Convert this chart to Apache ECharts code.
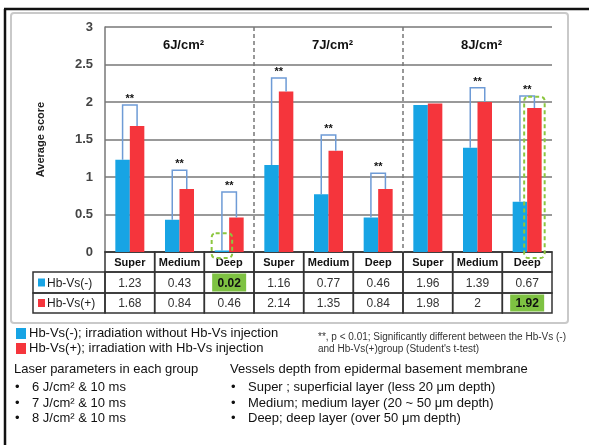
<!DOCTYPE html>
<html>
<head>
<meta charset="utf-8">
<script src="https://cdn.jsdelivr.net/npm/echarts@6/dist/echarts.min.js"></script>
<style>
html,body{margin:0;padding:0;background:#fff;}
#c{width:589px;height:445px;}
</style>
</head>
<body>
<div id="c"></div>
<script>
const categories = ['Super','Medium','Deep','Super','Medium','Deep','Super','Medium','Deep'];
const hbvsMinus = [1.23,0.43,0.02,1.16,0.77,0.46,1.96,1.39,0.67];
const hbvsPlus = [1.68,0.84,0.46,2.14,1.35,0.84,1.98,2,1.92];
const bracketTops = [1.96,1.09,0.8,2.32,1.56,1.05,null,2.19,2.08];
const groupTitles = ['6J/cm²','7J/cm²','8J/cm²'];
const groupCenters = [1,4,7];
const groupDividers = [3,6];
const highlightCells = [[2,0],[8,1]];           // [category index, row]
const greenBoxes = [[2,0,-0.08,0.25],[8,1,-0.08,2.07]]; // [category, 0=blue 1=red, low, high]
const seriesNames = ['Hb-Vs(-)','Hb-Vs(+)'];
const legendTexts = ['Hb-Vs(-); irradiation without Hb-Vs injection','Hb-Vs(+); irradiation with Hb-Vs injection'];
const BLUE = '#17a4e4', RED = '#f5353c', FONT = 'Liberation Sans, Arial, sans-serif';
const BARW = 14.5;

const chart = echarts.init(document.getElementById('c'), null, {renderer:'canvas'});

function bandW(api){ return api.size([1,0])[0]; }

const option = {
  animation:false,
  backgroundColor:'#fff',
  textStyle:{fontFamily:FONT},
  grid:{left:105,right:37,top:27,bottom:193,containLabel:false},
  xAxis:{type:'category',data:categories,
    axisLine:{show:true,lineStyle:{color:'#555',width:1.5}},
    axisTick:{show:false},
    axisLabel:{interval:0,margin:5,fontSize:11,fontWeight:'bold',color:'#111',fontFamily:FONT}},
  yAxis:{type:'value',min:0,max:3,interval:0.5,
    name:'Average score',nameLocation:'middle',nameGap:59,
    nameTextStyle:{fontSize:11,fontWeight:'bold',color:'#222',fontFamily:FONT},
    axisLine:{show:true,lineStyle:{color:'#777',width:1.5}},
    axisTick:{show:false},
    axisLabel:{margin:12,fontSize:13,fontWeight:'bold',color:'#444',fontFamily:FONT},
    splitLine:{lineStyle:{color:'#777',width:1.5}}},
  legend:{orient:'vertical',left:11,top:325,itemWidth:10,itemHeight:11,itemGap:2,icon:'rect',
    padding:[2,5,2,5],
    data:seriesNames,
    formatter:function(n){return legendTexts[seriesNames.indexOf(n)];},
    textStyle:{fontSize:13,color:'#111',fontFamily:FONT,padding:[0,0,0,-2]}},
  series:[
    {name:seriesNames[0],type:'bar',data:hbvsMinus,barWidth:BARW,barGap:'0%',itemStyle:{color:BLUE}},
    {name:seriesNames[1],type:'bar',data:hbvsPlus,barWidth:BARW,barGap:'0%',itemStyle:{color:RED}},
    // significance brackets
    {type:'custom',clip:false,z:5,
      data:bracketTops.map((t,i)=>[i,t,hbvsMinus[i],hbvsPlus[i]]).filter(d=>d[1]!==null),
      encode:{x:0,y:1},
      renderItem:function(params,api){
        const i=api.value(0), c=api.coord([i,api.value(1)]);
        const bx=c[0]-BARW/2, rx=c[0]+BARW/2;
        const yb=api.coord([i,api.value(2)])[1], yr=api.coord([i,api.value(3)])[1];
        return {type:'group',children:[
          {type:'polyline',shape:{points:[[bx,yb],[bx,c[1]],[rx,c[1]],[rx,yr]]},
            style:{stroke:'#6e9bd6',lineWidth:1.5,fill:null}},
          {type:'text',style:{x:c[0],y:c[1]-6,text:'**',textAlign:'center',textVerticalAlign:'middle',
            font:'bold 11px '+FONT,fill:'#111'}}
        ]};
      }},
    // group titles
    {type:'custom',clip:false,
      data:groupCenters.map((g,k)=>[g,2.75,k]),encode:{x:0,y:1},
      renderItem:function(params,api){
        const c=api.coord([api.value(0),api.value(1)]);
        return {type:'text',style:{x:c[0]+4,y:c[1],text:groupTitles[api.value(2)],textAlign:'center',
          textVerticalAlign:'middle',font:'bold 13px '+FONT,fill:'#111'}};
      }},
    // group dividers
    {type:'custom',clip:false,
      data:groupDividers.map(d=>[d,3]),encode:{x:0,y:1},
      renderItem:function(params,api){
        const w=bandW(api), t=api.coord([api.value(0),3]), b=api.coord([api.value(0),0]);
        const x=t[0]-w/2;
        return {type:'line',shape:{x1:x,y1:t[1],x2:x,y2:b[1]},
          style:{stroke:'#777',lineWidth:1.5,lineDash:[4,3]}};
      }},
    // green dashed boxes
    {type:'custom',clip:false,z:6,
      data:greenBoxes,encode:{x:0,y:2},
      renderItem:function(params,api){
        const i=api.value(0), side=api.value(1);
        const top=api.coord([i,api.value(3)]), bot=api.coord([i,api.value(2)]);
        const cx=top[0]+(side? BARW/2 : -BARW/2);
        const bw=BARW+6;
        return {type:'rect',shape:{x:cx-bw/2,y:top[1],width:bw,height:bot[1]-top[1],r:4},
          style:{fill:null,stroke:'#8cc63f',lineWidth:2,lineDash:[4,3]}};
      }},
    // data table below the axis
    {type:'custom',clip:false,z:1,
      data:categories.map((c,i)=>[i,0]),encode:{x:0,y:1},
      renderItem:function(params,api){
        const i=api.value(0), p=api.coord([i,0]), w=bandW(api);
        const x0=p[0]-w/2, y0=p[1];
        const rows=[[y0,20],[y0+20,21],[y0+41,20]];
        const ch=[];
        const lineStyle={fill:null,stroke:'#333',lineWidth:1.5};
        rows.forEach(r=>ch.push({type:'rect',shape:{x:x0,y:r[0],width:w,height:r[1]},style:lineStyle}));
        [hbvsMinus[i],hbvsPlus[i]].forEach((v,k)=>{
          const r=rows[k+1];
          const hl=highlightCells.some(h=>h[0]===i&&h[1]===k);
          if(hl){
            ch.push({type:'rect',shape:{x:x0+w/2-17,y:r[0]+1.5,width:34,height:r[1]-3},style:{fill:'#7ec242'}});
          }
          ch.push({type:'text',style:{x:x0+w/2,y:r[0]+r[1]/2+1,text:String(v),textAlign:'center',textVerticalAlign:'middle',
            font:(hl?'bold ':'')+'12px '+FONT,fill:hl?'#111':'#333'}});
        });
        if(i===0){
          const lx=x0-72;
          [0,1].forEach(k=>{
            const r=rows[k+1];
            ch.push({type:'rect',shape:{x:lx,y:r[0],width:72,height:r[1]},style:lineStyle});
            ch.push({type:'rect',shape:{x:lx+5,y:r[0]+r[1]/2-4,width:7,height:8},style:{fill:k?RED:BLUE}});
            ch.push({type:'text',style:{x:lx+14,y:r[0]+r[1]/2+1,text:seriesNames[k],textAlign:'left',textVerticalAlign:'middle',
              font:'12px '+FONT,fill:'#222'}});
          });
        }
        return {type:'group',children:ch};
      }}
  ],
  graphic:[
    {type:'rect',z:-10,shape:{x:11,y:13,width:557,height:310,r:3},style:{fill:'#fff',stroke:'#c9c9c9',lineWidth:2}},
    {type:'line',shape:{x1:4,y1:9,x2:589,y2:9},style:{stroke:'#111',lineWidth:2.5}},
    {type:'line',shape:{x1:5,y1:9,x2:5,y2:445},style:{stroke:'#111',lineWidth:2.5}},
    {type:'text',left:318,top:331,style:{text:'**, p < 0.01; Significantly different between the Hb-Vs (-)\nand Hb-Vs(+)group (Student\'s t-test)',
      font:'10px '+FONT,fill:'#333',lineHeight:12}},
    {type:'text',left:14,top:363,style:{text:'Laser parameters in each group',font:'13px '+FONT,fill:'#111'}},
    {type:'text',left:15,top:380,style:{text:'•\n•\n•',font:'13px '+FONT,fill:'#111',lineHeight:15.5}},
    {type:'text',left:32,top:380,style:{text:'6 J/cm² & 10 ms\n7 J/cm² & 10 ms\n8 J/cm² & 10 ms',font:'13px '+FONT,fill:'#111',lineHeight:15.5}},
    {type:'text',left:230,top:363,style:{text:'Vessels depth from epidermal basement membrane',font:'13px '+FONT,fill:'#111'}},
    {type:'text',left:231,top:380,style:{text:'•\n•\n•',font:'13px '+FONT,fill:'#111',lineHeight:15.5}},
    {type:'text',left:248,top:380,style:{text:'Super ; superficial layer (less 20 μm depth)\nMedium; medium layer (20 ~ 50 μm depth)\nDeep; deep layer (over 50 μm depth)',font:'13px '+FONT,fill:'#111',lineHeight:15.5}}
  ]
};
chart.setOption(option);
</script>
</body>
</html>
